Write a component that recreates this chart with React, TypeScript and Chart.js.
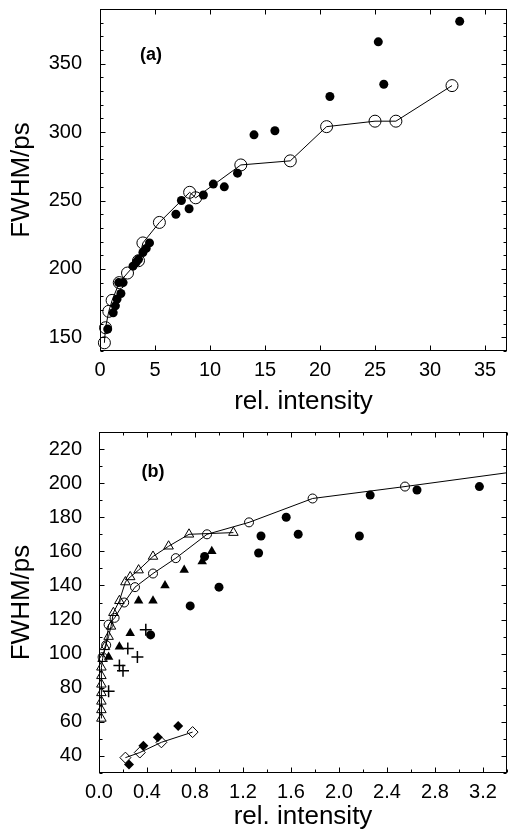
import React, { useEffect, useRef } from 'react';
import { Chart, registerables } from 'chart.js';

Chart.register(...registerables);

const FONT = '"Liberation Sans", Arial, Helvetica, sans-serif';

// ---------- Panel (a) ----------
const aXTicks = [0, 5, 10, 15, 20, 25, 30, 35];
const aYTicks = [150, 200, 250, 300, 350];
const aOpenX = [0.4, 0.5, 0.8, 1.1, 1.75, 2.5, 3.5, 3.9, 5.4, 8.15, 8.7, 12.8, 17.3, 20.6, 25.0, 26.9, 32.0];
const aOpenY = [146, 157, 169, 177, 190, 197, 206, 219, 234, 256, 252, 276, 279, 304, 308, 308, 334];
const aFillX = [0.7, 1.2, 1.4, 1.55, 1.7, 1.9, 2.1, 3.0, 3.3, 3.5, 3.9, 4.2, 4.5, 6.9, 7.4, 8.1, 9.4, 10.3, 11.3, 12.5, 14.0, 15.9, 20.9, 25.3, 25.8, 32.7];
const aFillY = [156, 168, 173, 178, 190, 182, 190, 202, 205, 207, 212, 215, 219, 240, 250, 244, 254, 262, 260, 270, 298, 301, 326, 366, 335, 381];

// ---------- Panel (b) ----------
const bXTicks = [0, 0.4, 0.8, 1.2, 1.6, 2.0, 2.4, 2.8, 3.2];
const bYTicks = [40, 60, 80, 100, 120, 140, 160, 180, 200, 220];
const bOpenCircX = [0.03, 0.06, 0.08, 0.13, 0.21, 0.3, 0.45, 0.64, 0.9, 1.25, 1.78, 2.55, 3.6];
const bOpenCircY = [98, 105, 117, 121, 130, 139, 147, 156, 170, 177, 191, 198, 208];
const bOpenTriX = [0.02, 0.02, 0.02, 0.02, 0.02, 0.02, 0.02, 0.03, 0.05, 0.08, 0.1, 0.12, 0.17, 0.22, 0.26, 0.33, 0.45, 0.58, 0.75, 1.12];
const bOpenTriY = [62, 67, 72, 77, 82, 87, 92, 97, 104, 110, 116, 124, 131, 142, 145, 149, 157, 163, 170, 171];
const bFillTriX = [0.08, 0.17, 0.26, 0.33, 0.45, 0.55, 0.71, 0.86, 0.94];
const bFillTriY = [98, 104, 112, 131, 131, 140, 149, 154, 160];
const bFillCircX = [0.43, 0.76, 0.88, 1.0, 1.33, 1.35, 1.56, 1.66, 2.17, 2.26, 2.65, 3.17];
const bFillCircY = [111, 128, 157, 139, 159, 169, 180, 170, 169, 193, 196, 198];
const bPlusX = [0.08, 0.17, 0.2, 0.24, 0.32, 0.39];
const bPlusY = [78, 93, 90, 103, 98, 114];
const bFillDiaX = [0.25, 0.37, 0.49, 0.66];
const bFillDiaY = [35, 46, 51, 57.5];
const bOpenDiaX = [0.22, 0.34, 0.52, 0.78];
const bOpenDiaY = [39, 42, 48, 54];

const zip = (xs: number[], ys: number[]) => xs.map((x, i) => ({ x, y: ys[i] }));

const framePlugin = {
  id: 'frame',
  afterDraw(chart: any, _args: any, opts: any) {
    const { ctx, chartArea: a, scales } = chart;
    const xs = scales.x;
    const ys = scales.y;
    ctx.save();
    ctx.strokeStyle = '#000';
    ctx.lineWidth = 1;
    const L = Math.round(a.left) + 0.5;
    const R = Math.round(a.right) - 0.5;
    const T = Math.round(a.top) + 0.5;
    const B = Math.round(a.bottom) - 0.5;
    ctx.strokeRect(L, T, R - L, B - T);
    const vals = (min: number, max: number, step: number) => {
      const out: number[] = [];
      for (let k = Math.ceil(min / step - 1e-9); k * step <= max + 1e-9; k++) out.push(k * step);
      return out;
    };
    ctx.beginPath();
    const xMinor = opts.xMinor ? vals(xs.min, xs.max, opts.xMinor) : [];
    const yMinor = opts.yMinor ? vals(ys.min, ys.max, opts.yMinor) : [];
    const drawX = (v: number, len: number) => {
      const p = Math.round(xs.getPixelForValue(v)) + 0.5;
      ctx.moveTo(p, B); ctx.lineTo(p, B - len);
      ctx.moveTo(p, T); ctx.lineTo(p, T + len);
    };
    const drawY = (v: number, len: number) => {
      const p = Math.round(ys.getPixelForValue(v)) + 0.5;
      ctx.moveTo(L, p); ctx.lineTo(L + len, p);
      ctx.moveTo(R, p); ctx.lineTo(R - len, p);
    };
    xMinor.forEach((v) => drawX(v, 3));
    yMinor.forEach((v) => drawY(v, 3));
    opts.xMajor.forEach((v: number) => drawX(v, 5));
    opts.yMajor.forEach((v: number) => drawY(v, 5));
    ctx.stroke();
    ctx.fillStyle = '#000';
    ctx.font = `bold 18px ${FONT}`;
    ctx.textAlign = 'center';
    ctx.textBaseline = 'middle';
    ctx.fillText(opts.label, a.left + opts.lx, a.top + opts.ly);
    ctx.restore();
  },
};

const noPad = (s: any) => {
  s.paddingTop = 0;
  s.paddingBottom = 0;
  s.paddingLeft = 0;
  s.paddingRight = 0;
};

function baseOptions(p: any) {
  return {
    animation: false,
    responsive: false,
    events: [],
    layout: { autoPadding: false, padding: { top: p.padTop, right: 1, left: 0, bottom: 0 } },
    plugins: {
      legend: { display: false },
      tooltip: { enabled: false },
      frame: p.frame,
    },
    scales: {
      x: {
        type: 'linear',
        min: p.xMin,
        max: p.xMax,
        grid: { display: false, drawTicks: false },
        border: { display: false },
        afterBuildTicks: (s: any) => { s.ticks = p.xTicks.map((v: number) => ({ value: v })); },
        afterFit: (s: any) => { s.height = p.xHeight; noPad(s); },
        ticks: {
          padding: 7,
          autoSkip: false,
          maxRotation: 0,
          color: '#000',
          font: { family: FONT, size: 20 },
          callback: p.xFmt,
        },
        title: {
          display: true,
          text: 'rel. intensity',
          color: '#000',
          font: { family: FONT, size: 26 },
          padding: { top: 0, bottom: p.xTitlePad },
        },
      },
      y: {
        type: 'linear',
        min: p.yMin,
        max: p.yMax,
        grid: { display: false, drawTicks: false },
        border: { display: false },
        afterBuildTicks: (s: any) => { s.ticks = p.yTicks.map((v: number) => ({ value: v })); },
        afterFit: (s: any) => { s.width = p.yWidth; noPad(s); },
        ticks: {
          padding: p.yTickPad,
          autoSkip: false,
          color: '#000',
          font: { family: FONT, size: 20 },
          callback: (v: any) => String(v),
        },
        title: {
          display: true,
          text: 'FWHM/ps',
          color: '#000',
          font: { family: FONT, size: 26 },
          padding: { top: 6, bottom: 0 },
        },
      },
    },
  };
}

function topConfig(): any {
  return {
    type: 'scatter',
    data: {
      datasets: [
        {
          data: zip(aOpenX, aOpenY),
          showLine: true,
          borderColor: '#000',
          borderWidth: 1,
          pointStyle: 'circle',
          pointRadius: 6,
          pointBorderWidth: 1,
          pointBorderColor: '#000',
          pointBackgroundColor: 'rgba(0,0,0,0)',
          clip: false,
        },
        {
          data: zip(aFillX, aFillY),
          showLine: false,
          pointStyle: 'circle',
          pointRadius: 4.5,
          pointBorderWidth: 0,
          pointBackgroundColor: '#000',
          pointBorderColor: '#000',
          clip: false,
        },
      ],
    },
    options: baseOptions({
      padTop: 9,
      xMin: 0, xMax: 37, yMin: 140, yMax: 390,
      xTicks: aXTicks, yTicks: aYTicks,
      xHeight: 69, yWidth: 100, yTickPad: 18, xTitlePad: 3,
      xFmt: (v: any) => String(v),
      frame: { xMajor: aXTicks, yMajor: aYTicks, xMinor: 0, yMinor: 10, label: '(a)', lx: 51, ly: 46 },
    }),
    plugins: [framePlugin],
  };
}

function bottomConfig(): any {
  const open = { pointBorderColor: '#000', pointBackgroundColor: 'rgba(0,0,0,0)', pointBorderWidth: 1 };
  const fill = { pointBorderColor: '#000', pointBackgroundColor: '#000', pointBorderWidth: 0 };
  return {
    type: 'scatter',
    data: {
      datasets: [
        {
          data: zip(bOpenCircX, bOpenCircY), showLine: true, borderColor: '#000', borderWidth: 1,
          pointStyle: 'circle', pointRadius: 4.5, ...open,
          clip: { left: 10, top: 10, bottom: 10, right: 0 },
        },
        {
          data: zip(bOpenTriX, bOpenTriY), showLine: true, borderColor: '#000', borderWidth: 1,
          pointStyle: 'triangle', pointRadius: 5.5, ...open, clip: false,
        },
        { data: zip(bFillTriX, bFillTriY), showLine: false, pointStyle: 'triangle', pointRadius: 5.5, ...fill, clip: false },
        { data: zip(bFillCircX, bFillCircY), showLine: false, pointStyle: 'circle', pointRadius: 4.5, ...fill, clip: false },
        {
          data: zip(bPlusX, bPlusY), showLine: false, pointStyle: 'cross', pointRadius: 6,
          pointBorderColor: '#000', pointBorderWidth: 1.5, clip: false,
        },
        { data: zip(bFillDiaX, bFillDiaY), showLine: false, pointStyle: 'rectRot', pointRadius: 5, ...fill, clip: false },
        {
          data: zip(bOpenDiaX, bOpenDiaY), showLine: true, borderColor: '#000', borderWidth: 1,
          pointStyle: 'rectRot', pointRadius: 5.5, ...open, clip: false,
        },
      ],
    },
    options: baseOptions({
      padTop: 12,
      xMin: 0, xMax: 3.4, yMin: 30, yMax: 230,
      xTicks: bXTicks, yTicks: bYTicks,
      xHeight: 59, yWidth: 99, yTickPad: 17, xTitlePad: 0,
      xFmt: (v: any) => Number(v).toFixed(1),
      frame: { xMajor: bXTicks, yMajor: bYTicks, xMinor: 0.2, yMinor: 10, label: '(b)', lx: 54, ly: 40 },
    }),
    plugins: [framePlugin],
  };
}

function Panel({ make, top, height }: { make: () => any; top: number; height: number }) {
  const ref = useRef<HTMLCanvasElement>(null);
  useEffect(() => {
    const chart = new Chart(ref.current as HTMLCanvasElement, make());
    return () => chart.destroy();
  }, []);
  return (
    <canvas
      ref={ref}
      width={508}
      height={height}
      style={{ position: 'absolute', left: 0, top, width: 508, height, display: 'block' }}
    />
  );
}

export default function App() {
  return (
    <div style={{ position: 'absolute', left: 0, top: 0, width: 508, height: 832, background: '#fff' }}>
      <Panel make={topConfig} top={0} height={420} />
      <Panel make={bottomConfig} top={420} height={412} />
    </div>
  );
}
